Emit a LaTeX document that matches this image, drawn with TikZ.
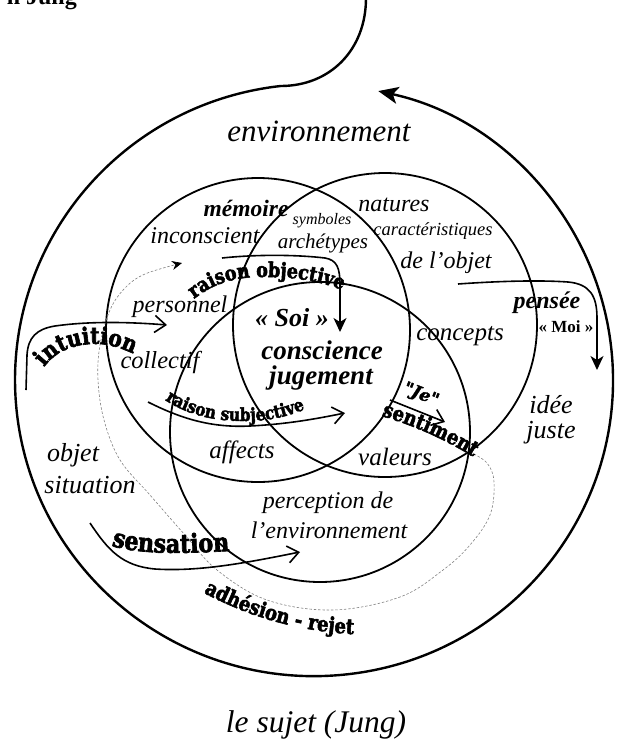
\documentclass[tikz,border=0pt]{standalone}
\usepackage{fontspec}
\setmainfont{Liberation Serif}
\newfontfamily\heavyfont[FakeBold=2.5,FakeStretch=0.85]{DejaVu Serif Bold}
\newfontfamily\heavyitfont[FakeBold=2]{DejaVu Serif Bold Italic}
\usetikzlibrary{arrows.meta,decorations.text}

\begin{document}
\begin{tikzpicture}[x=1pt,y=-1pt,
  venn/.style={line width=1.8pt},
  outerloop/.style={line width=2.4pt},
  flow/.style={line width=1.6pt},
  barb/.style={-{Straight Barb[length=11pt,width=17pt]}},
  filledtip/.style={-{Stealth[length=14pt,width=13pt,inset=4pt]}},
  hint/.style={gray, line width=0.6pt, dash pattern=on 2.5pt off 1.8pt},
  lbl/.style={font=\fontsize{#1}{#1}\selectfont\itshape, inner sep=0pt},
  lbl/.default=24,
  blbl/.style={font=\fontsize{#1}{#1}\selectfont\bfseries\itshape, inner sep=0pt},
  blbl/.default=27,
]
\useasboundingbox (0,0) rectangle (618,740);

% title fragment at the top edge
\node[anchor=base east, font=\bfseries\fontsize{24}{24}\selectfont, inner sep=0pt] (titletail) at (77,4) {n Jung};

% outer loop: hook from the top, big circle, arrow back to the top
\coordinate (hooktop) at (366,-2);
\draw[outerloop, -{Stealth[length=20pt,width=17pt,inset=5pt]}]
  (hooktop) .. controls (366,50) and (330,86) .. (280.7,86)
  arc[start angle=-96.4, end angle=-437.6, x radius=299, y radius=296];

% the three circles
\draw[venn] (258,330) circle[radius=152];
\draw[venn] (385,325) circle[radius=152];
\draw[venn] (320,432) circle[radius=150];

% dashed feedback curve
\coordinate (hintstart) at (470,452);
\coordinate (hintend) at (182,263);
\draw[hint, -{Stealth[black,length=10pt,width=9pt]}] plot[smooth, tension=0.6] coordinates {
  (hintstart) (487,463) (494,482) (490,515) (470,545) (443,570) (400,597)
  (333,610) (267,600) (217,570) (185,535) (150,495) (120,460) (104,420)
  (98,380) (100,345) (110,310) (125,288) (145,274) (hintend)};

% process arrows
\coordinate (intuA) at (26,390);  \coordinate (intuB) at (167,325);
\draw[flow, barb] (intuA) -- (27,355) .. controls (28,338) and (36,329) .. (55,326)
  .. controls (90,321) and (130,322) .. (intuB);

\coordinate (roA) at (222,258);  \coordinate (roB) at (340,332);
\draw[flow, filledtip] (roA) .. controls (260,254) and (300,255) .. (325,258)
  .. controls (337,260) and (340,268) .. (340,285) -- (roB);

\coordinate (rsA) at (148,402);  \coordinate (rsB) at (345,413);
\draw[flow, barb] (rsA) .. controls (180,418) and (210,428) .. (250,426)
  .. controls (290,424) and (320,418) .. (rsB);

\coordinate (jeA) at (390,400);  \coordinate (jeB) at (445,422);
\draw[flow, barb] (jeA) -- (jeB);

\coordinate (seA) at (90,523);  \coordinate (seB) at (300,552);
\draw[flow, barb] (seA) .. controls (108,550) and (122,566) .. (155,569)
  .. controls (200,572) and (250,562) .. (seB);

\coordinate (peA) at (458,284);  \coordinate (peB) at (597,370);
\draw[flow, filledtip] (peA) .. controls (500,281) and (540,280) .. (568,282)
  .. controls (590,284) and (597,296) .. (597,318) -- (peB);

% heavy curved words (baselines start at the first letter)
\path[decorate, decoration={text along path,
  text={|\heavyfont\fontsize{23.5}{23.5}\selectfont|intuition}}]
  (44,367) .. controls (55,353) and (68,346) .. (90,344) .. controls (108,343) and (122,347) .. (150,362);
\path[decorate, decoration={text along path,
  text={|\heavyfont\fontsize{20.5}{20.5}\selectfont|raison objective}}]
  (194,299) .. controls (214,283) and (235,277) .. (262,277) .. controls (295,277) and (320,280) .. (355,295);
\path[decorate, decoration={text along path,
  text={|\heavyfont\fontsize{18}{18}\selectfont|raison subjective}}]
  (165,400) .. controls (190,416) and (215,421) .. (245,421) .. controls (270,421) and (292,417) .. (325,400);
\path[decorate, decoration={text along path, text align=center,
  text={|\heavyfont\fontsize{26}{26}\selectfont|sensation}}]
  (96,540) .. controls (130,556) and (180,554) .. (246,550);
\path[decorate, decoration={text along path, text align=center,
  text={|\heavyfont\fontsize{21}{21}\selectfont|adhésion - rejet}}]
  (184,582) .. controls (240,614) and (295,634) .. (376,635);
\path[decorate, decoration={text along path, text align=center,
  text={|\heavyfont\fontsize{21}{21}\selectfont|sentiment}}]
  (372,413) .. controls (410,424) and (440,436) .. (482,462);
\node[font=\heavyitfont\fontsize{17}{17}\selectfont, inner sep=0pt, rotate=-22] (je) at (421,395) {"Je"};

% italic labels
\node[lbl=31] (envt) at (319,131) {environnement};
\node[blbl=23.5] (memoire) at (246,208) {mémoire};
\node[lbl] (inconscient) at (205,236) {inconscient};
\node[lbl=16] (symboles) at (322,221) {symboles};
\node[lbl=21] (archetypes) at (323,243) {archétypes};
\node[lbl] (natures) at (394,205) {natures};
\node[lbl=18.5] (caract) at (433,231) {caractéristiques};
\node[lbl] (delobjet) at (446,263) {de l’objet};
\node[lbl] (personnel) at (180,307) {personnel};
\node[lbl=24.5] (collectif) at (160,362) {collectif};
\node[blbl=26] (soi) at (292,318) {« Soi »};
\node[blbl] (conscience) at (322,350) {conscience};
\node[blbl] (jugement) at (321,378) {jugement};
\node[lbl=25] (concepts) at (460,336) {concepts};
\node[lbl=25] (affects) at (242,452) {affects};
\node[lbl=25] (valeurs) at (395,457) {valeurs};
\node[lbl] (perception) at (328,503) {perception de};
\node[lbl] (lenv) at (329,530) {l'environnement};
\node[lbl=26] (objet) at (73,455) {objet};
\node[lbl=26] (situation) at (90,485) {situation};
\node[blbl=24] (pensee) at (547,303) {pensée};
\node[font=\bfseries\fontsize{17}{17}\selectfont, inner sep=0pt] (moi) at (566,327) {« Moi »};
\node[lbl=26] (idee) at (551,405) {idée};
\node[lbl=26] (juste) at (551,433) {juste};
\node[lbl=31.5] (sujet) at (316,725) {le sujet (Jung)};
\end{tikzpicture}
\end{document}
